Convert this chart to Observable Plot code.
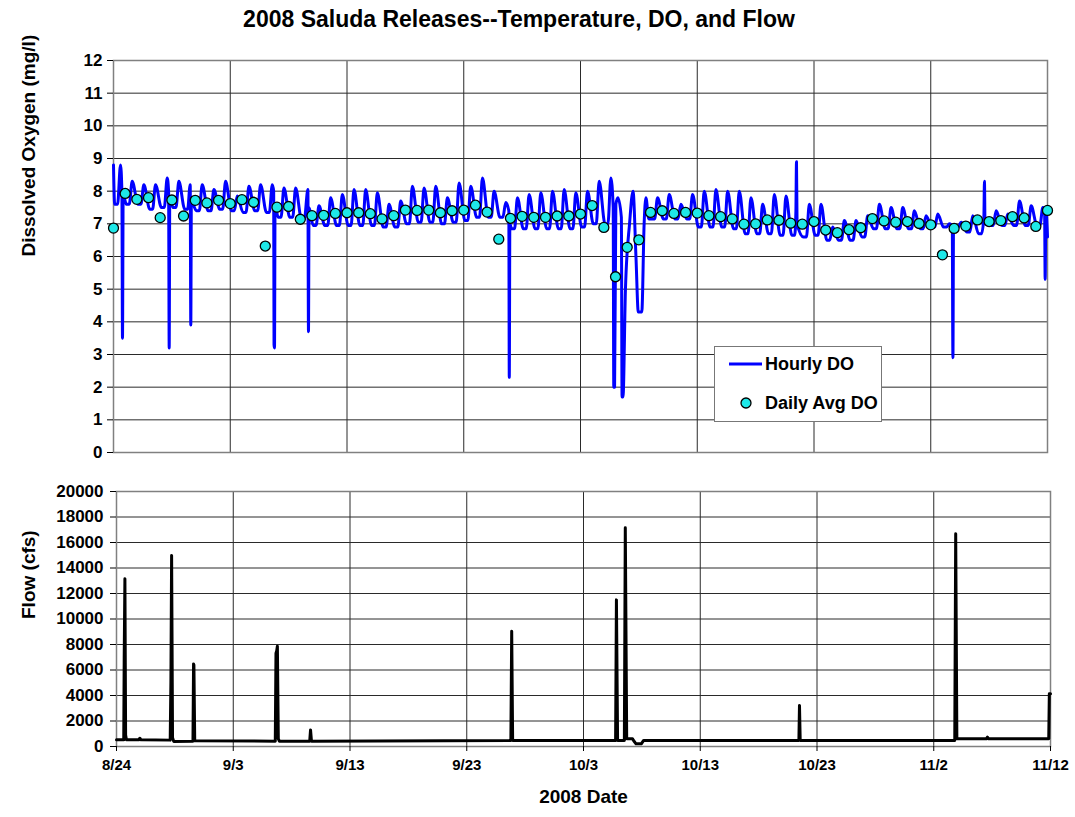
<!DOCTYPE html>
<html>
<head>
<meta charset="utf-8">
<script src="https://cdn.jsdelivr.net/npm/d3@7"></script>
<script src="https://cdn.jsdelivr.net/npm/@observablehq/plot@0.6"></script>
<style>
  body { margin: 0; background: #fff; font-family: "Liberation Sans", Arial, sans-serif; }
  #wrap { position: relative; width: 1075px; height: 817px; overflow: hidden; }
  #title { position: absolute; left: 0; top: 6px; width: 1038px; text-align: center; font-weight: bold; font-size: 23px; color: #000; }
  #top { position: absolute; left: 0; top: 40px; }
  #bottom { position: absolute; left: 0; top: 460px; }
  #legend { position: absolute; left: 714px; top: 346px; width: 168px; height: 76px; border: 1.5px solid #777; background: #fff; box-sizing: border-box; }
  #legend .row { position: absolute; left: 0; height: 22px; display: flex; align-items: center; font-weight: bold; font-size: 18px; color: #000; }
</style>
</head>
<body>
<div id="wrap">
  <div id="title">2008 Saluda Releases--Temperature, DO, and Flow</div>
  <div id="top"></div>
  <div id="bottom"></div>
  <div id="legend">
    <div class="row" style="top:6px;left:14px;"><svg width="36" height="22"><line x1="0" y1="11" x2="33" y2="11" stroke="#0000ff" stroke-width="3"/></svg><span>Hourly DO</span></div>
    <div class="row" style="top:45px;left:14px;"><svg width="36" height="22"><circle cx="17" cy="11" r="5" fill="#1ee8e8" stroke="#000" stroke-width="1.3"/></svg><span>Daily Avg DO</span></div>
  </div>
</div>
<script>
// ---- tick labels / axes ----
const labelDays = [0, 10, 20, 30, 40, 50, 60, 70, 80];
const dayLabels = ["8/24", "9/3", "9/13", "9/23", "10/3", "10/13", "10/23", "11/2", "11/12"];
const doTicks = [0, 1, 2, 3, 4, 5, 6, 7, 8, 9, 10, 11, 12];
const flowTicks = [0, 2000, 4000, 6000, 8000, 10000, 12000, 14000, 16000, 18000, 20000];
const titles = {doAxis: "Dissolved Oxygen (mg/l)", flowAxis: "Flow (cfs)", dateAxis: "2008 Date"};

// ---- daily average DO (mg/l), one per day starting 8/24 ----
const dailyAvgDO = [
  6.87, 7.93, 7.75, 7.80, 7.19, 7.73, 7.24, 7.72, 7.64, 7.72,
  7.62, 7.74, 7.66, 6.32, 7.51, 7.53, 7.14, 7.25, 7.26, 7.32,
  7.34, 7.34, 7.31, 7.15, 7.25, 7.42, 7.41, 7.42, 7.34, 7.40,
  7.42, 7.57, 7.36, 6.53, 7.17, 7.23, 7.20, 7.20, 7.24, 7.24,
  7.30, 7.56, 6.89, 5.38, 6.28, 6.51, 7.35, 7.40, 7.32, 7.35,
  7.33, 7.25, 7.22, 7.15, 6.99, 7.00, 7.12, 7.11, 7.02, 6.99,
  7.07, 6.81, 6.73, 6.82, 6.88, 7.16, 7.09, 7.05, 7.07, 7.01,
  6.97, 6.05, 6.86, 6.93, 7.12, 7.07, 7.10, 7.22, 7.18, 6.92,
  7.41
];

// ---- hourly DO: daily trough and afternoon peak ----
const hourlyTrough = [
  7.60, 7.60, 7.60, 7.45, 7.50, 7.50, 7.45, 7.40, 7.40, 7.45,
  7.40, 7.35, 7.40, 7.35, 7.20, 7.20, 7.15, 6.95, 6.95, 6.95,
  6.95, 6.95, 6.95, 6.90, 6.90, 7.00, 7.05, 7.05, 7.00, 7.05,
  7.10, 7.20, 7.20, 7.20, 6.85, 6.85, 6.85, 6.85, 6.85, 6.85,
  6.90, 7.00, 7.00, null, null, null, 7.15, 7.15, 7.15, 7.15,
  6.90, 6.90, 6.90, 6.85, 6.70, 6.70, 6.70, 6.65, 6.65, 6.60,
  6.65, 6.50, 6.50, 6.50, 6.60, 6.85, 6.85, 6.85, 6.85, 6.85,
  6.90, 6.90, 6.90, 6.75, 6.70, 6.95, 6.95, 6.95, 6.95, 6.95
];
const hourlyPeak = [
  8.80, 8.30, 8.20, 8.20, 8.40, 8.30, 8.25, 8.20, 8.05, 8.30,
  7.85, 8.15, 8.20, 8.20, 8.10, 8.10, 8.05, 7.55, 7.80, 7.90,
  8.05, 8.05, 7.95, 7.60, 7.70, 8.15, 8.10, 8.15, 7.80, 8.25,
  8.15, 8.40, 8.00, 7.65, 7.80, 7.90, 7.95, 8.00, 8.05, 7.95,
  8.00, 8.30, 8.40, null, null, null, 7.80, 7.90, 7.60, 7.90,
  8.00, 8.05, 8.00, 8.00, 7.80, 7.60, 7.90, 7.85, 7.50, 7.60,
  7.60, 6.90, 7.10, 7.10, 7.25, 7.60, 7.50, 7.50, 7.40, 7.25,
  7.30, 7.00, 7.05, 7.25, 7.30, 7.40, 7.30, 7.70, 7.55, 7.50
];
// ---- hourly DO excursions (day offset from 8/24, mg/l) ----
const spikeDay = [
  0.00,
  0.72, 0.77, 0.83,
  4.72, 4.77, 4.82,
  6.57, 6.62, 6.67,
  13.72, 13.75, 13.79, 13.84,
  16.65, 16.70, 16.75,
  33.86, 33.90, 33.95,
  42.80, 42.85, 42.92, 43.03, 43.20, 43.50, 43.56, 43.64, 43.85, 44.20,
  44.50, 44.75, 44.95, 45.25, 45.45, 45.60, 45.85,
  58.45, 58.50, 58.55,
  71.85, 71.88, 71.90, 71.95,
  74.55, 74.60, 74.65,
  79.75, 79.80, 79.86, 80.00
];
const spikeDO = [
  8.80,
  8.00, 3.50, 7.90,
  8.00, 3.20, 7.80,
  8.20, 3.90, 7.70,
  8.00, 3.30, 3.20, 7.60,
  8.05, 3.70, 7.50,
  7.40, 2.30, 7.00,
  7.50, 2.00, 2.00, 7.60, 7.80, 7.20, 1.70, 1.70, 5.00, 7.00,
  8.00, 6.00, 4.30, 4.30, 7.00, 7.80, 7.15,
  7.40, 8.90, 7.00,
  6.90, 3.80, 2.90, 6.90,
  7.20, 8.30, 7.00,
  7.40, 5.30, 7.50, 6.60
];

// ---- flow (cfs) vertices ----
const flowDay = [
  0.00, 0.62, 0.66, 0.72, 0.78, 0.85, 1.90, 2.00, 2.10,
  4.60, 4.66, 4.72, 4.80, 4.90,
  6.55, 6.60, 6.63, 6.70,
  13.60, 13.66, 13.72, 13.78, 13.86, 13.95,
  16.55, 16.62, 16.70,
  33.78, 33.85, 33.93,
  42.75, 42.82, 42.92, 43.50, 43.58, 43.70, 44.20, 44.30, 44.50, 44.95, 45.15,
  58.45, 58.50, 58.56,
  71.80, 71.88, 71.98,
  74.50, 74.60, 74.70,
  79.85, 79.90, 80.00
];
const flowCfs = [
  520, 520, 7000, 13150, 900, 520, 520, 650, 520,
  500, 5000, 14980, 700, 400,
  420, 6480, 6400, 450,
  420, 7320, 7500, 7870, 600, 420,
  420, 1300, 420,
  470, 9040, 470,
  470, 11500, 470, 470, 17150, 600, 600, 450, 210, 210, 480,
  470, 3220, 470,
  470, 16680, 600,
  600, 730, 600,
  600, 4130, 4130
];

// ---- build tables ----
const avgData = dailyAvgDO.map((v, d) => ({d, v}));
const base = [];
hourlyTrough.forEach((t, d) => {
  if (t == null) return;
  base.push([d + 0.1, t], [d + 0.35, t], [d + 0.6, hourlyPeak[d]]);
});
const events = spikeDay.map((t, i) => [t, spikeDO[i]]);
const hourly = base
  .filter(([t]) => !events.some(([e]) => Math.abs(e - t) < 0.06))
  .concat(events)
  .sort((a, b) => a[0] - b[0])
  .map(([t, v]) => ({t, v}));
const flowData = flowDay.map((t, i) => ({t, v: flowCfs[i]}));

const font = {fontFamily: "'Liberation Sans', Arial, sans-serif", fontSize: "16px", fontWeight: "bold", color: "#000", background: "#fff", overflow: "visible"};
const gridColor = "#2a2a2a";

const topChart = Plot.plot({
  width: 1075, height: 420,
  marginTop: 20, marginBottom: 8, marginLeft: 113, marginRight: 28,
  style: font,
  x: {domain: [0, 80], axis: null},
  y: {domain: [0, 12]},
  marks: [
    Plot.gridY(doTicks, {stroke: gridColor, strokeOpacity: 1, strokeWidth: 1}),
    Plot.gridX(labelDays, {stroke: gridColor, strokeOpacity: 1, strokeWidth: 1}),
    Plot.frame({stroke: "#808080", strokeWidth: 1.5}),
    Plot.axisY(doTicks, {tickSize: 6, tickPadding: 5, fontSize: 17, fontWeight: "bold", label: null}),
    Plot.text([titles.doAxis], {frameAnchor: "left", dx: -85, rotate: -90, fontSize: 19, fontWeight: "bold", fill: "#000"}),
    Plot.line(hourly, {x: "t", y: "v", stroke: "#0000ff", strokeWidth: 3, curve: "monotone-x"}),
    Plot.dot(avgData, {x: "d", y: "v", r: 5, fill: "#1ee8e8", stroke: "#000", strokeWidth: 1.3})
  ]
});
document.getElementById("top").appendChild(topChart);

const bottomChart = Plot.plot({
  width: 1075, height: 357,
  marginTop: 31, marginBottom: 71, marginLeft: 116, marginRight: 25,
  style: font,
  x: {domain: [0, 80]},
  y: {domain: [0, 20000]},
  marks: [
    Plot.gridY(flowTicks, {stroke: gridColor, strokeOpacity: 1, strokeWidth: 1}),
    Plot.gridX(labelDays, {stroke: gridColor, strokeOpacity: 1, strokeWidth: 1}),
    Plot.frame({stroke: "#808080", strokeWidth: 1.5}),
    Plot.axisY(flowTicks, {tickSize: 6, tickPadding: 7, fontSize: 17, fontWeight: "bold", tickFormat: "d", label: null}),
    Plot.axisX(labelDays, {tickSize: 5, tickPadding: 8, fontSize: 15, fontWeight: "bold",
      tickFormat: d => dayLabels[labelDays.indexOf(d)], label: null}),
    Plot.text([titles.flowAxis], {frameAnchor: "left", dx: -88, rotate: -90, fontSize: 19, fontWeight: "bold", fill: "#000"}),
    Plot.text([titles.dateAxis], {frameAnchor: "bottom", dy: 56, fontSize: 19, fontWeight: "bold", fill: "#000"}),
    Plot.line(flowData, {x: "t", y: "v", stroke: "#000", strokeWidth: 3})
  ]
});
document.getElementById("bottom").appendChild(bottomChart);
</script>
</body>
</html>
